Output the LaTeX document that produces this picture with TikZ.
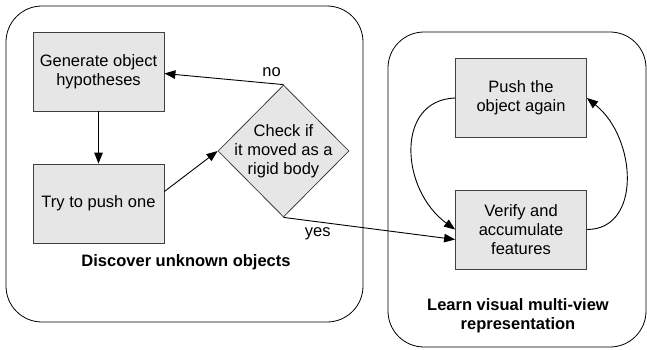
\documentclass[tikz,border=0pt]{standalone}
\usepackage{fontspec}
\setmainfont{Liberation Sans}
\usepackage{xcolor}
\usepackage{tikz}
\usetikzlibrary{positioning, arrows.meta, shapes.geometric}

\definecolor{boxfill}{HTML}{E6E6E6}
\definecolor{boxline}{HTML}{404040}

\begin{document}
\begin{tikzpicture}[x=1pt, y=-1pt,
    txt/.style={font=\fontsize{16.5}{19}\selectfont, align=center, inner sep=0pt},
    stepbox/.style={draw=boxline, line width=0.8pt, fill=boxfill,
        minimum width=131pt, minimum height=79pt, txt},
    decision/.style={diamond, draw=boxline, line width=0.8pt, fill=boxfill,
        minimum width=131pt, minimum height=132pt, inner sep=0pt},
    group/.style={draw, line width=0.8pt, rounded corners=36pt},
    title/.style={txt, font=\fontsize{16.5}{19}\selectfont\bfseries},
    flow/.style={line width=0.9pt, -{Triangle[length=11pt, width=8.5pt]}}]
    \useasboundingbox (0,0) rectangle (647,349);

    % Groups
    \draw[group] (6,6) rectangle (363,322);
    \draw[group] (388,32) rectangle (646,347);
    \node[title] (discover) at (186,262) {Discover unknown objects};
    \node[title] (learn) at (518,316) {Learn visual multi-view\\representation};

    % Discovery loop
    \node[stepbox] (gen) at (98.5,71.5) {Generate object\\hypotheses};
    \node[stepbox] (try) at (98.5,203.5) {Try to push one};
    \node[decision] (check) at (283.5,151) {};
    \node[txt] (checktxt) at (check.center) {Check if\\it moved as a\\rigid body};

    % Multi-view learning
    \node[stepbox] (push) at (521,98) {Push the\\object again};
    \node[stepbox] (verify) at (521,229.5) {Verify and\\accumulate\\features};

    % Arrows
    \draw[flow] (gen.south) -- (try.north);
    \draw[flow] ([yshift=12pt]try.east) -- (check.west);
    \draw[flow] (check.north) -- ([yshift=-2pt]gen.east)
        node[txt, pos=0.1, above=6pt] (no) {no};
    \draw[flow] (check.south) -- ([yshift=-10pt]verify.west)
        node[txt, pos=0.2, below=5pt] (yes) {yes};
    \draw[flow] (push.west) .. controls +(-60,2) and +(-55,-40) .. (verify.west);
    \draw[flow] (verify.east) .. controls +(55,0) and +(50,40) .. (push.east);
\end{tikzpicture}
\end{document}
